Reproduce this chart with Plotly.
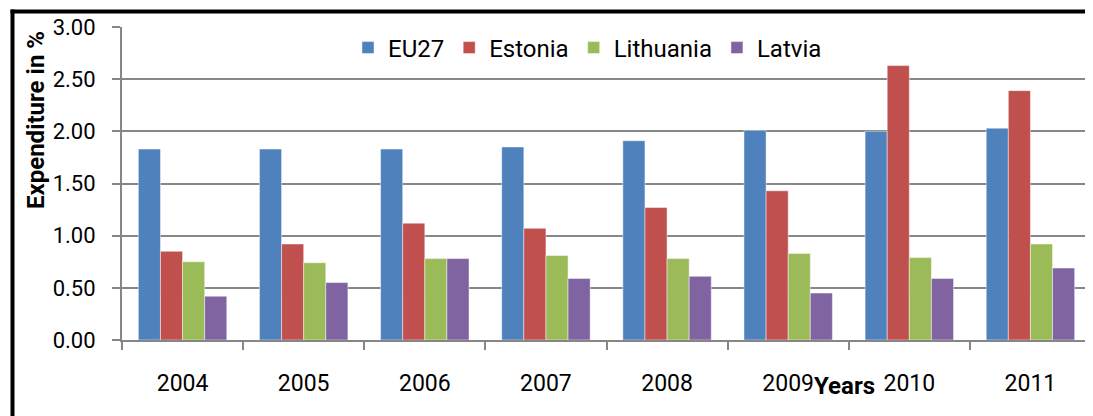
import plotly.graph_objects as go

years = ["2004", "2005", "2006", "2007", "2008", "2009", "2010", "2011"]
eu27 = [1.83, 1.83, 1.83, 1.85, 1.91, 2.01, 2.00, 2.03]
estonia = [0.85, 0.92, 1.12, 1.07, 1.27, 1.43, 2.63, 2.39]
lithuania = [0.75, 0.74, 0.78, 0.81, 0.78, 0.83, 0.79, 0.92]
latvia = [0.42, 0.55, 0.78, 0.59, 0.61, 0.45, 0.59, 0.69]
y_ticks = [0, 0.5, 1.0, 1.5, 2.0, 2.5, 3.0]
y_labels = ["0.00", "0.50", "1.00", "1.50", "2.00", "2.50", "3.00"]

series = [("EU27", eu27, "#4F81BD"), ("Estonia", estonia, "#C0504D"),
          ("Lithuania", lithuania, "#9BBB59"), ("Latvia", latvia, "#8064A2")]

FONT = "Roboto, Liberation Sans, sans-serif"

fig = go.Figure()
for name, vals, col in series:
    fig.add_trace(go.Bar(x=years, y=vals, name=name, marker_color=col,
                         marker_line=dict(color="rgba(255,255,255,0.45)", width=1)))

OFF = 8  # page body margin
W, H = 1093 - OFF, 416 - OFF
L, R, T, B = 122 - OFF, 2, 27 - OFF, 76
pw, ph = W - L - R, H - T - B

def px(x):  # page pixel -> paper
    return (x - OFF - L) / pw

def py(y):
    return (H - B - (y - OFF)) / ph

fig.update_layout(
    width=W, height=H,
    margin=dict(l=L, r=R, t=T, b=B),
    paper_bgcolor="white", plot_bgcolor="white",
    barmode="group", bargap=0.27, bargroupgap=0,
    font=dict(family=FONT, color="black", size=22),
    legend=dict(orientation="h", x=px(348), y=py(48), xanchor="left", yanchor="middle",
                font=dict(size=24, family=FONT), bgcolor="rgba(0,0,0,0)",
                itemwidth=30, traceorder="normal"),
    xaxis=dict(type="category", showline=True, linecolor="#868686", linewidth=2,
               ticks="outside", tickson="boundaries", ticklen=8, tickcolor="#868686",
               tickwidth=2, showgrid=False, tickfont=dict(size=23, family=FONT),
               ticklabelstandoff=21),
    yaxis=dict(range=[0, 3.0], tickvals=y_ticks, ticktext=y_labels,
               showline=True, linecolor="#868686", linewidth=2,
               ticks="outside", ticklen=8, tickcolor="#868686", tickwidth=2,
               showgrid=True, gridcolor="#878787", gridwidth=1.5,
               tickfont=dict(size=22, family=FONT), ticklabelstandoff=12,
               zeroline=False),
    annotations=[
        dict(text="<b>Expenditure in %</b>", x=px(36), y=py(120), xref="paper", yref="paper",
             textangle=-90, showarrow=False, font=dict(size=24, family=FONT),
             xanchor="center", yanchor="middle"),
        dict(text="<b>Years</b>", x=px(844), y=py(386), xref="paper", yref="paper",
             showarrow=False, font=dict(size=24, family=FONT),
             xanchor="center", yanchor="middle"),
    ],
    shapes=[
        dict(type="line", xref="paper", yref="paper", x0=px(12.5), x1=px(12.5),
             y0=py(440), y1=py(9.5), line=dict(color="black", width=4)),
        dict(type="line", xref="paper", yref="paper", x0=px(10.5), x1=px(1110),
             y0=py(11.5), y1=py(11.5), line=dict(color="black", width=4)),
    ],
)

fig.write_html("out.html")
